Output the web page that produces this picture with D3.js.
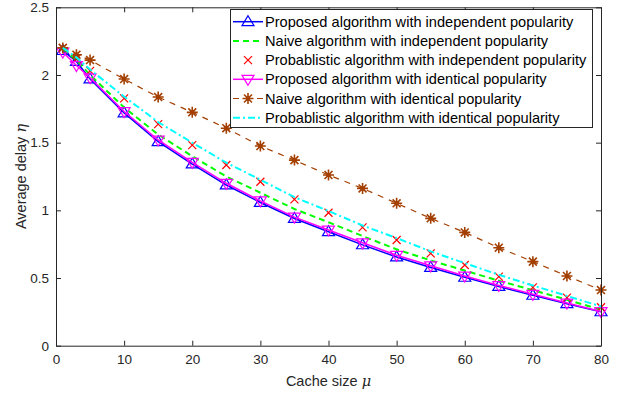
<!DOCTYPE html>
<html><head><meta charset="utf-8">
<script src="https://cdn.jsdelivr.net/npm/d3@7"></script>
<style>body{margin:0;background:#fff}svg{display:block;font-family:"Liberation Sans",Arial,sans-serif}</style>
</head><body><svg id="c" width="622" height="397"></svg>
<script>
const cacheSizes = [1,3,5,10,15,20,25,30,35,40,45,50,55,60,65,70,75,80];
const proposedIndep = [2.18,2.10,1.97,1.72,1.507,1.342,1.187,1.058,0.94,0.842,0.745,0.655,0.578,0.505,0.437,0.372,0.31,0.25];
const naiveIndep    = [2.19,2.11,2.00,1.76,1.56,1.40,1.25,1.13,1.01,0.912,0.81,0.712,0.63,0.555,0.48,0.41,0.34,0.265];
const probIndep     = [2.20,2.12,2.03,1.827,1.637,1.482,1.335,1.211,1.081,0.982,0.874,0.781,0.682,0.596,0.510,0.431,0.355,0.284];
const proposedIdent = [2.17,2.07,1.98,1.73,1.52,1.355,1.20,1.07,0.95,0.855,0.76,0.668,0.59,0.515,0.445,0.38,0.315,0.252];
const naiveIdent    = [2.20,2.15,2.11,1.97,1.837,1.724,1.607,1.475,1.371,1.261,1.162,1.052,0.941,0.837,0.724,0.621,0.515,0.411];
const probIdent     = [2.20,2.13,2.04,1.84,1.652,1.50,1.352,1.226,1.097,0.995,0.888,0.795,0.697,0.61,0.524,0.445,0.368,0.29];
const xTicks = [0,10,20,30,40,50,60,70,80];
const yTicks = [0,0.5,1,1.5,2,2.5];
const legendLabels = [
  "Proposed algorithm with independent popularity",
  "Naive algorithm with independent popularity",
  "Probablistic algorithm with independent popularity",
  "Proposed algorithm with identical popularity",
  "Naive algorithm with identical popularity",
  "Probablistic algorithm with identical popularity"];

const svg = d3.select("#c");
const L=56,R=601,T=7.3,B=345.7;
const x = d3.scaleLinear().domain([0,80]).range([L,R]);
const y = d3.scaleLinear().domain([0,2.5]).range([B,T]);
const axisCol="#262626";

const series = [
  {v:proposedIndep, color:"#0000ff", w:1.5, dash:null, marker:"up"},
  {v:naiveIndep, color:"#00ff00", w:2, dash:"6,4", marker:null},
  {v:probIndep, color:"#ff0000", w:0, dash:null, marker:"x"},
  {v:proposedIdent, color:"#ff00ff", w:1.5, dash:null, marker:"down"},
  {v:naiveIdent, color:"#a33f00", w:1.2, dash:"6,6", marker:"star"},
  {v:probIdent, color:"#00ffff", w:2, dash:"7,3,2,3", marker:null}
];

function drawMarker(g, type, cx, cy, color){
  const s=6;
  if(type==="up"){
    g.append("path").attr("d",`M${cx},${cy-s}L${cx+s},${cy+s*0.65}L${cx-s},${cy+s*0.65}Z`).attr("fill","none").attr("stroke",color).attr("stroke-width",1.2);
  } else if(type==="down"){
    g.append("path").attr("d",`M${cx},${cy+s}L${cx+s},${cy-s*0.65}L${cx-s},${cy-s*0.65}Z`).attr("fill","none").attr("stroke",color).attr("stroke-width",1.2);
  } else if(type==="x"){
    const r=4;
    g.append("path").attr("d",`M${cx-r},${cy-r}L${cx+r},${cy+r}M${cx-r},${cy+r}L${cx+r},${cy-r}`).attr("stroke",color).attr("stroke-width",1.2);
  } else if(type==="star"){
    const r=5.5,d=r*0.72;
    g.append("path").attr("d",`M${cx-r},${cy}L${cx+r},${cy}M${cx},${cy-r}L${cx},${cy+r}M${cx-d},${cy-d}L${cx+d},${cy+d}M${cx-d},${cy+d}L${cx+d},${cy-d}`).attr("stroke",color).attr("stroke-width",1.6);
    g.append("circle").attr("cx",cx).attr("cy",cy).attr("r",2.2).attr("fill",color);
  }
}

const plot = svg.append("g");
plot.append("rect").attr("x",L).attr("y",T).attr("width",R-L).attr("height",B-T).attr("fill","#fff");
const line = d3.line().x((d,i)=>x(cacheSizes[i])).y(d=>y(d));
series.forEach(s=>{
  if(s.w>0){
    plot.append("path").datum(s.v).attr("d",line).attr("fill","none").attr("stroke",s.color)
      .attr("stroke-width",s.w).attr("stroke-dasharray",s.dash);
  }
  if(s.marker){
    const g=plot.append("g");
    s.v.forEach((v,i)=>drawMarker(g,s.marker,x(cacheSizes[i]),y(v),s.color));
  }
});

// axes
const tl=5;
const ax = svg.append("g");
ax.append("g").attr("transform",`translate(0,${B})`).call(d3.axisBottom(x).tickValues(xTicks).tickSizeInner(-tl).tickSizeOuter(0).tickPadding(9));
ax.append("g").attr("transform",`translate(0,${T})`).call(d3.axisTop(x).tickValues(xTicks).tickSizeInner(-tl).tickSizeOuter(0).tickFormat(""));
ax.append("g").attr("transform",`translate(${L},0)`).call(d3.axisLeft(y).tickValues(yTicks).tickSizeInner(-tl).tickSizeOuter(0).tickPadding(7).tickFormat(d3.format("")));
ax.append("g").attr("transform",`translate(${R},0)`).call(d3.axisRight(y).tickValues(yTicks).tickSizeInner(-tl).tickSizeOuter(0).tickFormat(""));
ax.selectAll("path.domain").attr("stroke",axisCol).attr("stroke-width",1);
ax.selectAll(".tick line").attr("stroke",axisCol);
ax.selectAll(".tick text").attr("fill",axisCol).attr("font-size",13.5).attr("font-family","Liberation Sans, Arial, sans-serif");

// axis labels
svg.append("text").attr("x",(L+R)/2).attr("y",386).attr("text-anchor","middle").attr("font-size",14.5).attr("fill",axisCol)
  .html('Cache size <tspan font-family="DejaVu Serif" font-style="italic">μ</tspan>');
svg.append("text").attr("transform",`translate(26,${(T+B)/2}) rotate(-90)`).attr("text-anchor","middle").attr("font-size",14.5).attr("fill",axisCol)
  .html('Average delay <tspan font-family="DejaVu Serif" font-style="italic">η</tspan>');

// legend
const lg = svg.append("g");
lg.append("rect").attr("x",230.5).attr("y",9.5).attr("width",362).attr("height",118).attr("fill","#fff").attr("stroke",axisCol).attr("stroke-width",1);
legendLabels.forEach((lab,i)=>{
  const s=series[i], cy=21.7+i*19.2;
  if(s.w>0){
    lg.append("line").attr("x1",233).attr("x2",263).attr("y1",cy).attr("y2",cy).attr("stroke",s.color).attr("stroke-width",s.w).attr("stroke-dasharray",s.dash);
  }
  if(s.marker) drawMarker(lg,s.marker,248,cy,s.color);
  lg.append("text").attr("x",265).attr("y",cy+5).attr("font-size",14.6).attr("fill","#000").text(lab);
});
</script></body></html>
